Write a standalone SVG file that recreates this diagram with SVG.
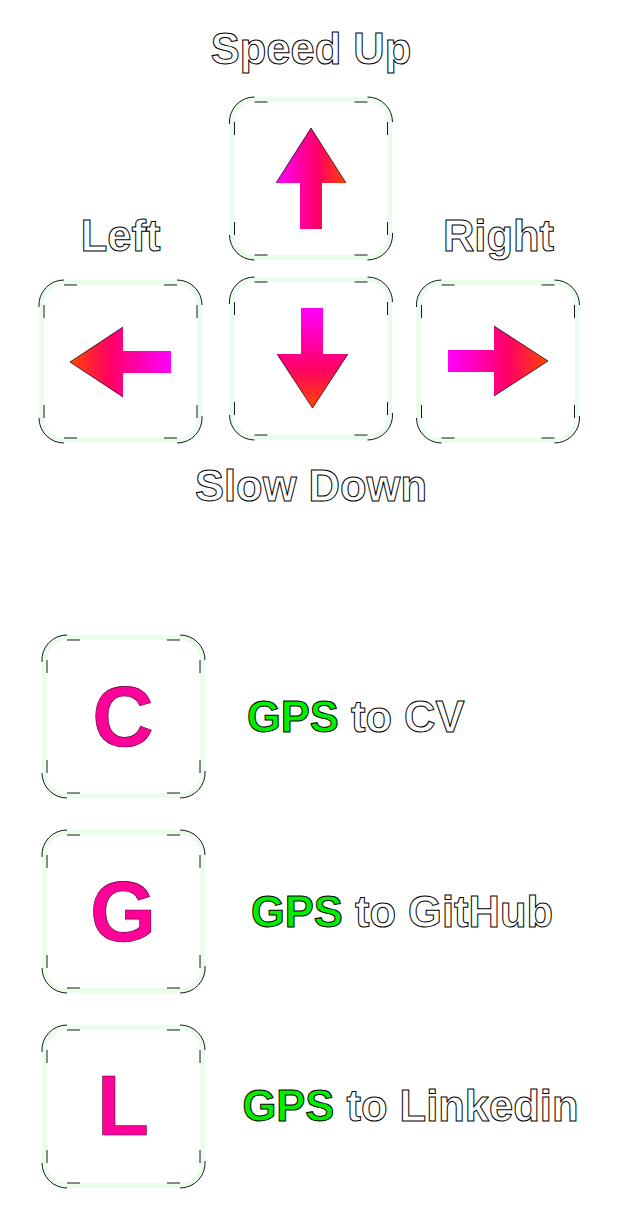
<svg xmlns="http://www.w3.org/2000/svg" xmlns:xlink="http://www.w3.org/1999/xlink" width="618" height="1216" viewBox="0 0 618 1216">
<style>
.lbl{font-family:"Liberation Sans",Arial,sans-serif;font-weight:bold;font-size:43.5px;fill:#fff;stroke:#000;stroke-width:1px}
.gps{fill:#00ee00}
.letter{font-family:"Liberation Sans",Arial,sans-serif;font-weight:bold;font-size:85px;fill:#ff0099;stroke:#500030;stroke-width:0.6px;text-anchor:middle}
.edge{fill:none;stroke:#000;stroke-width:0.9px}
.head{fill:none;stroke:#000;stroke-width:0.7px}
</style>
<defs>
<linearGradient id="gH" x1="0" y1="0" x2="1" y2="0">
<stop offset="0" stop-color="#ff00ff"/><stop offset="0.6" stop-color="#ff0066"/><stop offset="1" stop-color="#ff4500"/>
</linearGradient>
<linearGradient id="gHr" x1="1" y1="0" x2="0" y2="0">
<stop offset="0" stop-color="#ff00ff"/><stop offset="0.6" stop-color="#ff0066"/><stop offset="1" stop-color="#ff4500"/>
</linearGradient>
<linearGradient id="gV" x1="0" y1="0" x2="0" y2="1">
<stop offset="0" stop-color="#ff00ff"/><stop offset="0.6" stop-color="#ff0066"/><stop offset="1" stop-color="#ff4500"/>
</linearGradient>
<g id="key">
<rect x="2.5" y="2.5" width="158" height="158" rx="22.5" fill="none" stroke="#ecfcec" stroke-width="5"/>
<path class="edge" d="M0,27 A25,25 0 0 1 25,0 M138,0 A25,25 0 0 1 163,25 M163,136 A25,25 0 0 1 138,163 M25,163 A25,25 0 0 1 0,138 M25,5 H38 M125,5 H138 M5,25 V38 M5,125 V138 M158,25 V38 M158,125 V138 M25,158 H38 M125,158 H138"/>
</g>
</defs>
<rect width="618" height="1216" fill="#fff"/>

<g id="connectors"></g>

<g id="key-up">
<use xlink:href="#key" href="#key" x="229.5" y="97"/>
<polygon points="311,128 346,183 322,183 322,229 300,229 300,183 276,183" fill="url(#gH)"/>
<path class="head" d="M276,183 L311,128 L346,183"/>
<text class="lbl" x="311" y="64" text-anchor="middle">Speed Up</text>
</g>

<g id="key-left">
<use xlink:href="#key" href="#key" x="39" y="280"/>
<polygon points="70,362 123,327 123,351 171,351 171,373 123,373 123,397" fill="url(#gHr)"/>
<path class="head" d="M123,327 L70,362 L123,397"/>
<text class="lbl" x="120.5" y="251" text-anchor="middle">Left</text>
</g>

<g id="key-down">
<use xlink:href="#key" href="#key" x="229.5" y="277"/>
<polygon points="301,308 323,308 323,354 348,354 312.5,408 277,354 301,354" fill="url(#gV)"/>
<path class="head" d="M277,354 L312.5,408 L348,354"/>
<text class="lbl" x="311" y="501" text-anchor="middle">Slow Down</text>
</g>

<g id="key-right">
<use xlink:href="#key" href="#key" x="416.5" y="280"/>
<polygon points="448,350 494,350 494,326 548,361 494,396 494,372 448,372" fill="url(#gH)"/>
<path class="head" d="M494,326 L548,361 L494,396"/>
<text class="lbl" x="498.5" y="251" text-anchor="middle">Right</text>
</g>

<g id="key-c">
<use xlink:href="#key" href="#key" x="42" y="635"/>
<text class="letter" x="123" y="746">C</text>
<text class="lbl" x="247" y="732"><tspan class="gps">GPS</tspan> to CV</text>
</g>

<g id="key-g">
<use xlink:href="#key" href="#key" x="42" y="830"/>
<text class="letter" x="123" y="941">G</text>
<text class="lbl" x="251" y="927"><tspan class="gps">GPS</tspan> to GitHub</text>
</g>

<g id="key-l">
<use xlink:href="#key" href="#key" x="42" y="1025"/>
<text class="letter" x="123" y="1135">L</text>
<text class="lbl" x="242.5" y="1121"><tspan class="gps">GPS</tspan> to Linkedin</text>
</g>
</svg>
